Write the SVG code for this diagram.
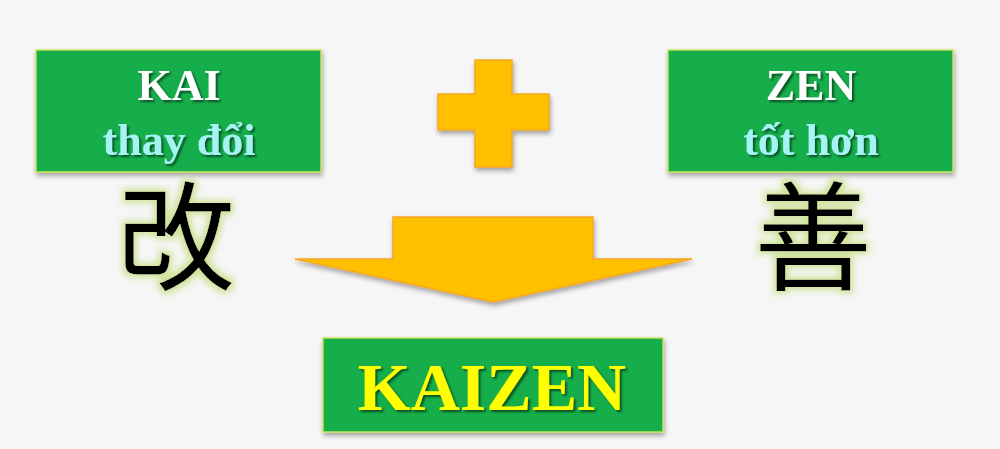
<svg xmlns="http://www.w3.org/2000/svg" width="1000" height="449" viewBox="0 0 1000 449">
  <defs>
    <filter id="shadow" x="-10%" y="-10%" width="120%" height="130%">
      <feGaussianBlur in="SourceAlpha" stdDeviation="2.5"/>
      <feOffset dx="1" dy="3" result="b"/>
      <feComponentTransfer><feFuncA type="linear" slope="0.35"/></feComponentTransfer>
      <feMerge><feMergeNode/><feMergeNode in="SourceGraphic"/></feMerge>
    </filter>
    <filter id="txtshadow" x="-10%" y="-20%" width="120%" height="140%">
      <feGaussianBlur in="SourceAlpha" stdDeviation="1.2"/>
      <feOffset dx="2" dy="2"/>
      <feComponentTransfer><feFuncA type="linear" slope="0.55"/></feComponentTransfer>
      <feMerge><feMergeNode/><feMergeNode in="SourceGraphic"/></feMerge>
    </filter>
    <filter id="glow" x="-20%" y="-20%" width="140%" height="140%">
      <feMorphology in="SourceAlpha" operator="dilate" radius="3" result="d"/>
      <feGaussianBlur in="d" stdDeviation="3" result="g"/>
      <feFlood flood-color="#cfe39a"/>
      <feComposite in2="g" operator="in"/>
      <feMerge><feMergeNode/><feMergeNode in="SourceGraphic"/></feMerge>
    </filter>
  </defs>
  <style>
    .box { fill: #13ad4b; stroke: #c9e25a; stroke-width: 1.5; }
    .yel { fill: #ffc000; stroke: #f5a623; stroke-width: 1.5; }
    .t { font-family: "Liberation Serif", "Times New Roman", serif; font-weight: bold; text-anchor: middle; }
    .w { fill: #ffffff; font-size: 44px; }
    .c { fill: #a6f3f3; font-size: 44px; }
    .k { fill: #ffff00; font-size: 68px; }
    .kanji { font-family: "Noto Sans CJK JP", "Noto Sans CJK SC", sans-serif; font-size: 118px; fill: #000; text-anchor: middle; }
  </style>
  <rect width="1000" height="449" fill="#f6f6f6"/>

  <g id="kai-box">
    <rect class="box" x="36" y="50" width="285" height="122" filter="url(#shadow)"/>
    <g filter="url(#txtshadow)">
      <text class="t w" x="179" y="100">KAI</text>
      <text class="t c" x="179" y="155">thay đổi</text>
    </g>
  </g>

  <g id="plus">
    <path class="yel" d="M475,60 H512 V94 H549 V130 H512 V167 H475 V130 H438 V94 H475 Z" filter="url(#shadow)"/>
  </g>

  <g id="zen-box">
    <rect class="box" x="668" y="50" width="285" height="122" filter="url(#shadow)"/>
    <g filter="url(#txtshadow)">
      <text class="t w" x="811" y="100">ZEN</text>
      <text class="t c" x="811" y="155">tốt hơn</text>
    </g>
  </g>

  <g id="kanji-kai">
    <text class="kanji" x="176" y="281" filter="url(#glow)">改</text>
  </g>

  <g id="kanji-zen">
    <text class="kanji" x="813" y="281" filter="url(#glow)">善</text>
  </g>

  <g id="connectors">
    <path class="yel" d="M393,217 H593 V259 H692 L493,302 L295,259 H393 Z" filter="url(#shadow)"/>
  </g>

  <g id="kaizen-box">
    <rect class="box" x="323" y="338" width="340" height="94" filter="url(#shadow)"/>
    <text class="t k" x="492" y="410" filter="url(#txtshadow)">KAIZEN</text>
  </g>
</svg>
